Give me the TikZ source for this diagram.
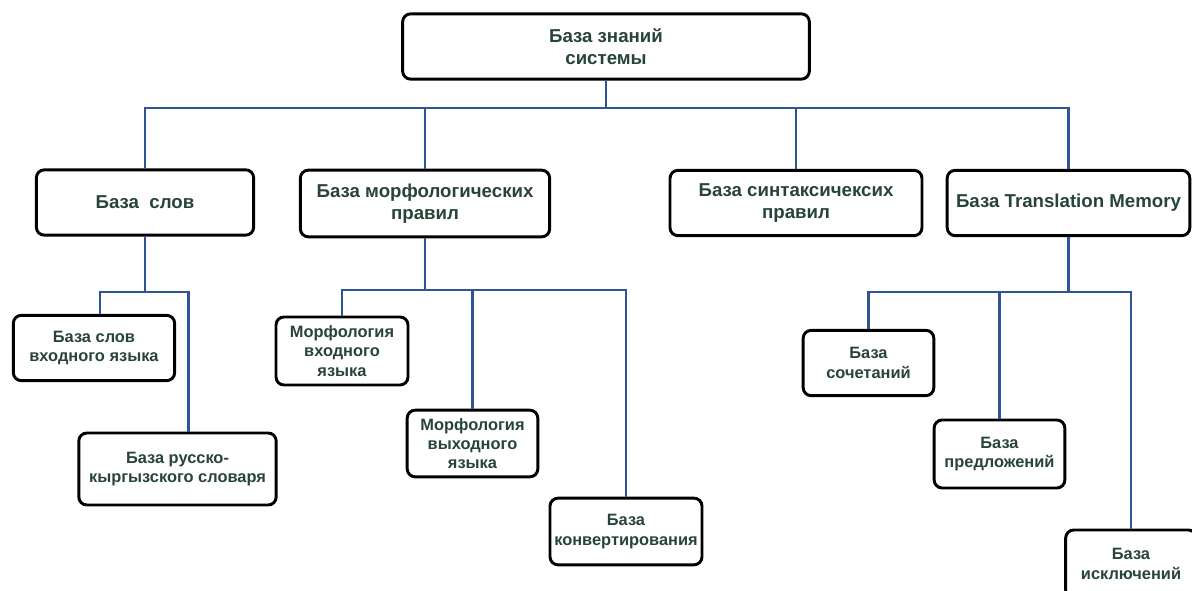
\documentclass[tikz,border=0pt]{standalone}
\usepackage{fontspec}
\setmainfont{Liberation Sans}
\definecolor{linkblue}{RGB}{46,84,148}
\definecolor{textgreen}{RGB}{40,68,54}

\begin{document}
\begin{tikzpicture}[x=0.75pt, y=-0.75pt,
    base/.style={rectangle, draw, line width=2.2pt, rounded corners=6pt, align=center,
        text=textgreen, inner sep=2pt, font=\bfseries\fontsize{14}{16.5}\selectfont},
    leaf/.style={base, font=\bfseries\fontsize{12.3}{14.5}\selectfont},
    link/.style={draw=linkblue, line width=2.1pt}]

\useasboundingbox (0,0) rectangle (1192,591);

% top level
\node[base, minimum width=305pt, minimum height=49pt] (kb) at (606,46.5) {База знаний\\системы};

% second level
\node[base, minimum width=163pt, minimum height=49pt] (slov) at (145,202.5) {База\ \ слов};
\node[base, minimum width=187pt, minimum height=50pt] (morf) at (425,203.5) {База морфологических\\правил};
\node[base, minimum width=189pt, minimum height=49pt] (sint) at (796,203) {База синтаксичексих\\правил};
\node[base, minimum width=182pt, minimum height=49pt] (tm) at (1068.5,203) {База Translation Memory};

% third level
\node[leaf, minimum width=121pt, minimum height=49pt] (vx) at (94,348) {База слов\\входного языка};
\node[leaf, minimum width=148pt, minimum height=54pt] (rk) at (177.5,469) {База русско-\\кыргызского словаря};
\node[leaf, minimum width=99pt, minimum height=51pt] (mi) at (342,351) {Морфология\\входного\\языка};
\node[leaf, minimum width=98pt, minimum height=50pt] (mo) at (472.5,443.5) {Морфология\\выходного\\языка};
\node[leaf, minimum width=114pt, minimum height=50pt] (konv) at (626,531.5) {База\\конвертирования};
\node[leaf, minimum width=98pt, minimum height=49pt] (soch) at (868.5,363) {База\\сочетаний};
\node[leaf, minimum width=98pt, minimum height=51pt] (pred) at (999.5,454) {База\\предложений};
\node[leaf, minimum width=98pt, minimum height=51pt] (iskl) at (1131,564) {База\\исключений};

% bus levels
\coordinate (bus1) at (0,108);
\coordinate (bus2) at (0,292);
\coordinate (bus3) at (0,290);

\draw[link] (kb.south) -- (kb.south |- bus1);
\draw[link] (slov.north) |- (tm.north |- bus1) -- (tm.north);
\draw[link] (morf.north) -- (morf.north |- bus1);
\draw[link] (sint.north) -- (sint.north |- bus1);

\draw[link] (slov.south) -- (slov.south |- bus2);
\draw[link] ([xshift=4.5pt]vx.north) |- (slov.south |- bus2);
\draw[link] ([xshift=8pt]rk.north) |- (slov.south |- bus2);

\draw[link] (morf.south) -- (morf.south |- bus3);
\draw[link] (mi.north) |- (konv.north |- bus3) -- (konv.north);
\draw[link] (mo.north) -- (mo.north |- bus3);

\draw[link] (tm.south) -- (tm.south |- bus2);
\draw[link] (soch.north) |- (iskl.north |- bus2) -- (iskl.north);
\draw[link] (pred.north) -- (pred.north |- bus2);
\end{tikzpicture}
\end{document}
